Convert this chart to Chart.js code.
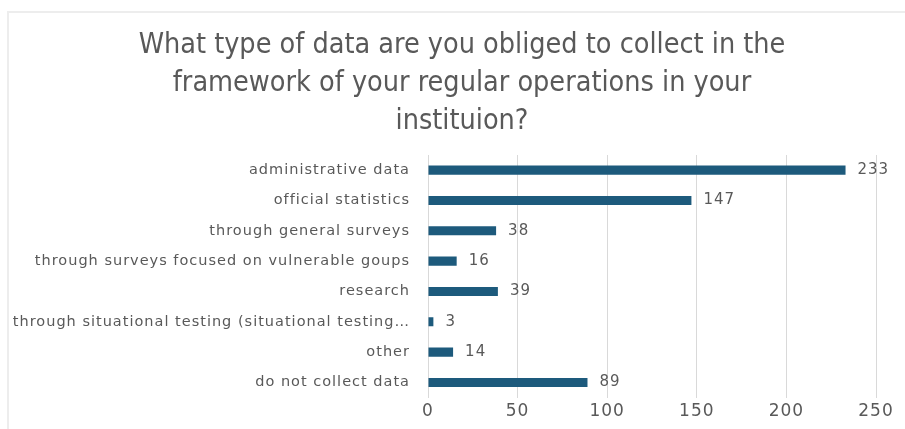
<!DOCTYPE html>
<html>
<head>
<meta charset="utf-8">
<script src="https://cdn.jsdelivr.net/npm/chart.js@4.4.1/dist/chart.umd.min.js"></script>
<style>
  body { margin: 0; background: #fff; }
  #frame {
    position: absolute; left: 7px; top: 11px;
    width: 898px; height: 418px;
    border-left: 2px solid #ededed; border-top: 2px solid #ededed;
  }
  canvas { position: absolute; left: 0; top: 0; display: block; }
</style>
</head>
<body>
<div id="frame"></div>
<canvas id="dataChart" width="905" height="429"></canvas>
<script>
// survey answers and number of respondents
var categories = [
    'administrative data',
    'official statistics',
    'through general surveys',
    'through surveys focused on vulnerable goups',
    'research',
    'through situational testing (situational testing\u2026',
    'other',
    'do not collect data'
];
var counts = [233, 147, 38, 16, 39, 3, 14, 89];
var titleLines = [
    'What type of data are you obliged to collect in the',
    'framework of your regular operations in your',
    'instituion?'
];

var textColor = '#595959';

// slightly tracked-out text for the axes
var spacing = {
    id: 'spacing',
    beforeDraw: function (chart) {
        chart.ctx.letterSpacing = '1px';
    }
};

// three-line heading, centred a bit right of the canvas middle
var heading = {
    id: 'heading',
    afterDraw: function (chart) {
        var ctx = chart.ctx;
        ctx.save();
        ctx.letterSpacing = '0px';
        ctx.font = '28.5px "DejaVu Sans Condensed", "DejaVu Sans", sans-serif';
        ctx.fillStyle = textColor;
        ctx.textAlign = 'center';
        ctx.textBaseline = 'middle';
        titleLines.forEach(function (line, i) {
            ctx.fillText(line, 462, 46 + i * 38);
        });
        ctx.restore();
    }
};

// writes the count just right of each bar
var valueLabels = {
    id: 'valueLabels',
    afterDatasetsDraw: function (chart) {
        var ctx = chart.ctx;
        var meta = chart.getDatasetMeta(0);
        ctx.save();
        ctx.letterSpacing = '1px';
        ctx.font = '15px "DejaVu Sans", sans-serif';
        ctx.fillStyle = textColor;
        ctx.textBaseline = 'middle';
        ctx.textAlign = 'left';
        meta.data.forEach(function (bar, i) {
            ctx.fillText(chart.data.datasets[0].data[i], bar.x + 12, bar.y);
        });
        ctx.restore();
    }
};

var ctx = document.getElementById('dataChart').getContext('2d');
var chart = new Chart(ctx, {
    type: 'bar',
    data: {
        labels: categories,
        datasets: [{
            data: counts,
            backgroundColor: '#1d5a7c',
            borderWidth: 0,
            barPercentage: 0.3,
            categoryPercentage: 1
        }]
    },
    options: {
        indexAxis: 'y',
        responsive: false,
        animation: false,
        layout: { padding: { left: 0, right: 29, top: 155, bottom: 3 } },
        plugins: {
            legend: { display: false },
            tooltip: { enabled: false },
            title: { display: false }
        },
        scales: {
            x: {
                min: 0,
                max: 250,
                ticks: {
                    stepSize: 50,
                    color: textColor,
                    padding: 4,
                    font: { family: '"DejaVu Sans", sans-serif', size: 17 }
                },
                grid: { color: '#d9d9d9', drawTicks: false },
                border: { display: false }
            },
            y: {
                ticks: {
                    color: textColor,
                    padding: 18,
                    autoSkip: false,
                    font: { family: '"DejaVu Sans", sans-serif', size: 14.5 }
                },
                grid: { display: false, drawTicks: false },
                border: { display: true, color: '#d9d9d9' },
                afterFit: function (scale) { scale.width = 428; }
            }
        }
    },
    plugins: [spacing, heading, valueLabels]
});
</script>
</body>
</html>
